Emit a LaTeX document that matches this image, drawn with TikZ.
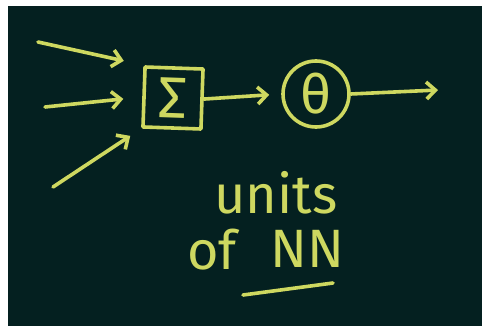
\documentclass[tikz,border=0pt]{standalone}
\usepackage{fontspec}
\setmainfont{Fira Sans}
\usetikzlibrary{arrows.meta}
\definecolor{bg}{RGB}{4,32,32}
\definecolor{chalk}{RGB}{206,216,96}
\begin{document}
\begin{tikzpicture}[x=1pt,y=-1pt,
  chalkline/.style={draw=chalk,line width=3.6pt,line cap=round,line join=round},
  arr/.style={chalkline,-{Straight Barb[length=9pt,width=17pt,line width=3.6pt]}},
  sumbox/.style={chalkline,rectangle,minimum width=58pt,minimum height=60pt,inner sep=0pt,text=chalk,font=\fontsize{58}{58}\selectfont},
  actnode/.style={chalkline,circle,minimum size=66pt,inner sep=0pt,text=chalk,font=\fontsize{54}{54}\selectfont},
  hand/.style={text=chalk,inner sep=0pt,font=\fontsize{54}{54}\selectfont}]
\fill[white] (0,0) rectangle (482,326);
\fill[bg] (8,6) rectangle (482,326);
\useasboundingbox (0,0) rectangle (482,326);
\node[sumbox,rotate=-2] (sum) at (173,98) {Σ};
\node[actnode] (act) at (316,94) {θ};
\coordinate (i1) at (38,42);
\coordinate (i2) at (45,107);
\coordinate (i3) at (53,187);
\coordinate (out) at (438,90);
\draw[arr,shorten >=20pt] (i1) -- (sum.north west);
\draw[arr,shorten >=19pt] (i2) -- (sum.west);
\draw[arr,shorten >=13pt] (i3) -- (sum.south west);
\draw[arr,shorten >=12pt] (sum.east) -- (act.west);
\draw[arr] (act.east) -- (out);
\node[hand] (units) at (276,193) {units};
\node[hand] (of) at (212,250) {of};
\node[hand] (nn) at (307,249) {NN};
\coordinate (u1) at (243,295);
\coordinate (u2) at (333,283);
\draw[chalkline] (u1) -- (u2);
\end{tikzpicture}
\end{document}
